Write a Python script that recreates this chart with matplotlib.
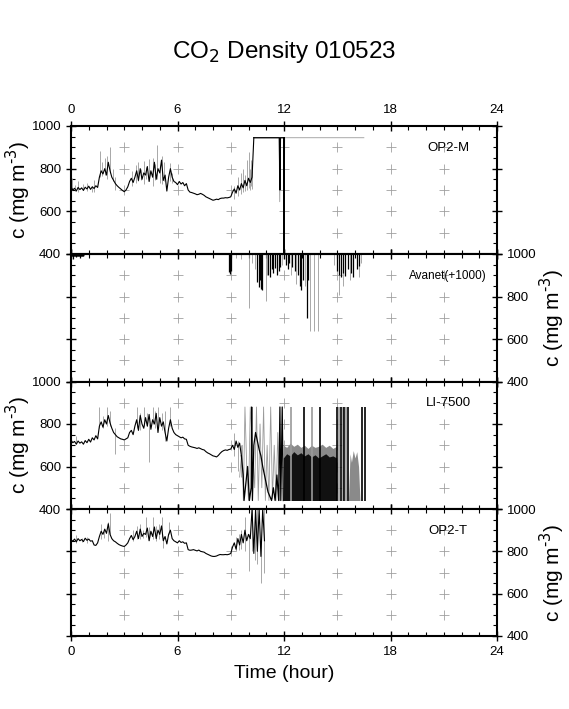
import numpy as np
import matplotlib
matplotlib.use('Agg')
import matplotlib.pyplot as plt
from matplotlib.ticker import MultipleLocator

plt.rcParams['font.family'] = ['Liberation Sans', 'DejaVu Sans']

# ---------------- data (hour, mg m-3) ----------------
# OP2-M : black trace every 0.1 h from 0 to 10.3 h
op2m_vals = [715, 700, 708, 695, 712, 702, 710, 698, 713, 705, 718, 703, 715, 707, 720, 712,
             760, 790, 775, 800, 770, 830, 790,
             760, 745, 730, 720, 712, 705, 698, 692,
             700, 715, 740, 755, 735,
             760, 790, 745, 800, 750, 780, 770, 810, 740, 790, 760, 830, 750, 800, 780, 840, 745, 770, 695, 760,
             800, 760, 740, 735, 725, 740, 728, 735, 720, 730,
             700, 690, 688, 685, 682, 678, 680, 684, 680, 675,
             668, 664, 660, 656, 652, 654, 657, 655, 660, 662,
             662, 664, 663, 665, 668,
             690, 705, 685, 720, 700, 730, 710, 745, 720, 755, 735, 760,
             945]
op2m_tail_t = [10.3, 11.72, 11.76, 11.8, 11.97, 12.0, 12.04, 16.5]
op2m_tail_v = [945, 945, 645, 945, 945, 400, 945, 945]
op2m_blk_t = [10.3, 11.74, 11.77, 11.8, 11.98, 12.0, 12.02]
op2m_blk_v = [945, 945, 700, 945, 945, 400, 945]
op2m_spk_t = [0.05, 0.25, 0.4, 0.65, 0.9, 1.2, 1.3, 1.65, 1.75, 1.9, 2.05, 2.2, 2.35, 2.5, 3.45, 3.65, 3.8,
              3.95, 4.1, 4.25, 4.4, 4.6, 4.75, 4.86, 5.0, 5.1, 5.25, 5.6, 5.7,
              9.2, 9.4, 9.55, 9.7, 9.8, 9.9, 10.0, 10.08, 10.15, 10.22]
op2m_spk_lo = [700, 695, 690, 700, 695, 690, 690, 760, 765, 770, 750, 780, 740, 700, 720, 735, 740,
               745, 730, 750, 740, 720, 745, 750, 735, 730, 740, 740, 735,
               660, 670, 680, 690, 695, 700, 710, 700, 720, 705]
op2m_spk_hi = [755, 725, 740, 730, 735, 720, 745, 883, 830, 850, 860, 903, 800, 760, 790, 815, 830,
               800, 835, 810, 845, 850, 820, 911, 815, 860, 830, 825, 780,
               720, 760, 780, 800, 770, 840, 880, 800, 840, 790]

# Avanet (+1000): downward spikes from the 1000 line
avn_base_t = [0.0, 0.7, 0.72, 16.3]
avn_base_v = [992, 992, 1000, 1000]
avn_blk_t = [0.1, 0.3, 0.5, 8.9, 8.95, 9.0, 10.5, 10.6, 10.65, 10.7, 10.75, 11.1, 11.2, 11.3, 11.4, 11.5,
             11.6, 11.7, 11.8, 12.1, 12.2, 12.3, 12.45, 12.6, 12.8, 12.9, 12.96, 13.05, 13.3, 13.35,
             15.0, 15.1, 15.2, 15.3, 15.45, 15.6, 15.8, 15.9, 16.1, 16.2]
avn_blk_v = [975, 985, 980, 915, 905, 920, 870, 845, 880, 835, 832, 900, 890, 930, 910, 935,
             900, 920, 940, 950, 930, 960, 940, 920, 900, 850, 832, 880, 700, 880,
             920, 900, 890, 910, 895, 930, 910, 890, 930, 945]
avn_gry_t = [9.3, 9.6, 10.03, 10.2, 10.35, 10.97, 11.05, 11.9, 12.4, 12.65, 13.2, 13.46, 13.7, 13.9,
             14.8, 15.1, 15.35, 15.7, 16.2, 16.35]
avn_gry_v = [980, 975, 746, 960, 930, 777, 900, 950, 900, 860, 850, 640, 640, 640,
             950, 808, 850, 880, 894, 960]

# LI-7500 : black trace every 0.1 h from 0 to 9.6 h
li_vals = [725, 712, 718, 705, 720, 710, 716, 705, 722, 712, 728, 715, 735, 725, 745, 730,
           790, 810, 785, 820, 800, 840, 805,
           780, 760, 750, 740, 735, 730, 728, 725,
           730, 735, 760, 770, 750,
           790, 820, 770, 840, 800, 780, 830, 790, 845, 775, 820, 800, 850, 760, 830, 790, 810, 760, 720, 780,
           820, 780, 760, 750, 745, 740, 735, 738, 730, 728,
           700, 695, 692, 690, 688, 685, 688, 684, 680, 678,
           670, 664, 660, 655, 650, 648, 645, 652, 662, 670,
           675, 678, 676, 680, 682,
           700, 680, 720, 690, 710, 650]
li_spk_t = [0.3, 1.6, 1.8, 2.0, 2.2, 2.5, 3.7, 3.9, 4.1, 4.3, 4.4, 4.6, 4.75, 4.9, 5.1, 5.3, 5.6,
            9.2, 9.4, 9.55]
li_spk_lo = [705, 780, 780, 790, 790, 660, 780, 770, 790, 790, 620, 800, 780, 790, 770, 720, 790,
             650, 580, 550]
li_spk_hi = [745, 880, 840, 880, 860, 780, 880, 850, 880, 850, 800, 880, 860, 880, 850, 860, 880,
             760, 720, 700]
li_chaos_t = [9.6, 9.7, 9.75, 9.85, 9.95, 10.05, 10.15, 10.18, 10.22, 10.3, 10.4, 10.5, 10.6, 10.7, 10.8,
              10.9, 11.0, 11.1, 11.2, 11.3, 11.4, 11.5, 11.6, 11.7, 11.77, 11.82, 11.9, 11.96]
li_chaos_v = [650, 560, 440, 520, 600, 440, 500, 880, 440, 700, 760, 720, 680, 650, 600,
              560, 520, 480, 460, 440, 500, 440, 560, 440, 880, 440, 880, 440]
li_gchaos_t = [9.5, 9.65, 9.71, 9.8, 9.9, 10.0, 10.1, 10.35, 10.45, 10.55, 10.65, 10.75, 10.85, 10.95,
               11.05, 11.15, 11.25, 11.35, 11.45, 11.55, 11.65, 11.75]
li_gchaos_v = [550, 700, 440, 880, 600, 440, 880, 500, 880, 440, 800, 500, 880, 440,
               700, 440, 880, 450, 700, 440, 760, 440]
li_blk_t = [11.96, 12.15, 12.35, 12.55, 12.75, 12.95, 13.15, 13.35, 13.55, 13.75, 13.95, 14.15,
            14.35, 14.55, 14.75, 14.97]
li_blk_top = [640, 660, 650, 670, 655, 665, 650, 660, 645, 655, 640, 650, 660, 645, 650, 640]
li_gry_top = [700, 690, 710, 695, 705, 690, 700, 685, 700, 690, 695, 705, 690, 700, 685, 695]
li_tall_t = [12.4, 13.1, 13.6, 14.0, 15.0, 15.1, 15.2, 15.3, 15.4, 15.5, 15.6, 16.4, 16.55]
li_tall_c = ['g', 'k', 'g', 'k', 'k', 'g', 'k', 'g', 'k', 'g', 'k', 'k', 'k']
li_end_t = [15.63, 15.72, 15.8, 15.9, 16.0, 16.1, 16.2, 16.28]
li_end_v = [440, 660, 620, 675, 640, 670, 600, 440]

# OP2-T : black trace every 0.1 h from 0 to 10.9 h
op2t_vals = [855, 848, 858, 845, 860, 850, 856, 846, 862, 852, 858, 848, 850,
             830, 828, 840,
             870, 895, 880, 905, 885, 930, 880,
             860, 850, 845, 838, 832, 828, 825, 823,
             830, 840, 860, 875, 855,
             870, 895, 860, 905, 870, 885, 880, 910, 850, 895, 870, 915, 860, 900, 880, 920, 850, 870, 835, 880,
             900, 860, 850, 845, 840, 850, 842, 845, 838, 840,
             808, 805, 806, 808, 805, 802, 806, 800, 798, 796,
             790, 786, 782, 778, 776, 776, 778, 782, 785, 784,
             784, 785, 784, 786, 790,
             820, 840, 810, 860, 830, 880, 840, 900, 850, 880,
             860, 1000, 790, 1000, 800, 1000, 776, 1000, 850]
op2t_spk_t = [0.3, 0.6, 0.9, 1.7, 1.85, 2.1, 2.2, 3.5, 3.7, 3.9, 4.05, 4.2, 4.4, 4.6, 4.8, 4.95, 5.1, 5.2, 5.5,
              9.3, 9.45, 9.6, 9.8, 10.04, 10.2, 10.35, 10.5, 10.73, 10.85]
op2t_spk_lo = [840, 845, 840, 860, 865, 850, 880, 850, 860, 860, 865, 870, 855, 860, 850, 860, 870, 815, 880,
               800, 805, 810, 800, 705, 800, 760, 740, 650, 700]
op2t_spk_hi = [875, 865, 870, 930, 900, 940, 980, 900, 920, 930, 900, 964, 915, 964, 920, 930, 964, 870, 940,
               870, 880, 900, 960, 880, 1000, 1000, 1000, 850, 1000]

panel_names = ['OP2-M', 'Avanet(+1000)', 'LI-7500', 'OP2-T']
grid_x = [3, 6, 9, 12, 15, 18, 21]
grid_y = [500, 600, 700, 800, 900]

GRY = '#9a9a9a'
LW = 0.6
BLW = 0.8

fig = plt.figure(figsize=(5.69, 7.09), dpi=100)
left, width = 71 / 569, 426 / 569
tops = [126, 254, 381.5, 509, 636]
axes = []
for i in range(4):
    b = 1 - tops[i + 1] / 709
    h = (tops[i + 1] - tops[i]) / 709
    axes.append(fig.add_axes([left, b, width, h]))

for i, ax in enumerate(axes):
    ax.set_xlim(0, 24)
    ax.set_ylim(400, 1000)
    gx, gy = np.meshgrid(grid_x, grid_y)
    ax.plot(gx.ravel(), gy.ravel(), '+', color='#a0a0a0', ms=7, mew=0.6, zorder=0)
    ax.xaxis.set_major_locator(MultipleLocator(6))
    ax.xaxis.set_minor_locator(MultipleLocator(1))
    ax.yaxis.set_major_locator(MultipleLocator(200))
    ax.yaxis.set_minor_locator(MultipleLocator(50))
    ax.tick_params(which='major', direction='inout', length=7, width=1.0, labelsize=9.5,
                   top=True, bottom=True, left=True, right=True,
                   labeltop=False, labelbottom=False, labelleft=False, labelright=False)
    ax.tick_params(which='minor', direction='in', length=3, width=0.8,
                   top=True, bottom=True, left=True, right=True)
    for s in ax.spines.values():
        s.set_linewidth(1.5)
    ax.text(0.885, 0.83, panel_names[i], transform=ax.transAxes, ha='center', va='center',
            fontsize=9.5 if i != 1 else 8.5)

ylab = r'c (mg m$^{\text{-3}}$)'
ax1, ax2, ax3, ax4 = axes
ax1.tick_params(which='major', labeltop=True, labelleft=True)
ax2.tick_params(which='major', labelright=True)
ax3.tick_params(which='major', labelleft=True)
ax4.tick_params(which='major', labelright=True, labelbottom=True)
for ax in (ax1, ax3):
    ax.set_ylabel(ylab, fontsize=15)
    ax.yaxis.set_label_coords(-0.089, 0.5)
for ax in (ax2, ax4):
    ax.yaxis.set_label_position('right')
    ax.set_ylabel(ylab, fontsize=15, rotation=90)
    ax.yaxis.set_label_coords(1.096, 0.5)
ax4.set_xlabel('Time (hour)', fontsize=14, labelpad=5)

# OP2-M
t = np.arange(len(op2m_vals)) * 0.1
ax1.vlines(op2m_spk_t, op2m_spk_lo, op2m_spk_hi, color=GRY, lw=LW)
ax1.plot(op2m_tail_t, op2m_tail_v, color=GRY, lw=LW)
ax1.plot(t, op2m_vals, color='k', lw=BLW)
ax1.plot(op2m_blk_t, op2m_blk_v, color='k', lw=0.9)

# Avanet
ax2.vlines(avn_gry_t, avn_gry_v, 1000, color=GRY, lw=LW)
ax2.vlines(avn_blk_t, avn_blk_v, 1000, color='k', lw=0.9)
ax2.plot(avn_base_t, avn_base_v, color='k', lw=1.5)

# LI-7500
t = np.arange(len(li_vals)) * 0.1
ax3.vlines(li_spk_t, li_spk_lo, li_spk_hi, color=GRY, lw=LW)
ax3.plot(li_gchaos_t, li_gchaos_v, color=GRY, lw=LW)
ax3.fill_between(li_blk_t, 440, li_gry_top, color='#8a8a8a', lw=0)
ax3.fill_between(li_blk_t, 440, li_blk_top, color='#111111', lw=0)
ax3.fill_between(li_end_t, 440, li_end_v, color='#8a8a8a', lw=0)
ax3.vlines(li_tall_t, 440, 880, colors=[GRY if c == 'g' else 'k' for c in li_tall_c], lw=1.2)
ax3.plot(t, li_vals, color='k', lw=BLW)
ax3.plot(li_chaos_t, li_chaos_v, color='k', lw=0.9)

# OP2-T
t = np.arange(len(op2t_vals)) * 0.1
ax4.vlines(op2t_spk_t, op2t_spk_lo, op2t_spk_hi, color=GRY, lw=LW)
ax4.plot(t, op2t_vals, color='k', lw=BLW)

fig.text(0.5, 1 - 52 / 709, 'CO$_2$ Density 010523', ha='center', va='center', fontsize=17.5)

fig.savefig('out.png', dpi=100)
